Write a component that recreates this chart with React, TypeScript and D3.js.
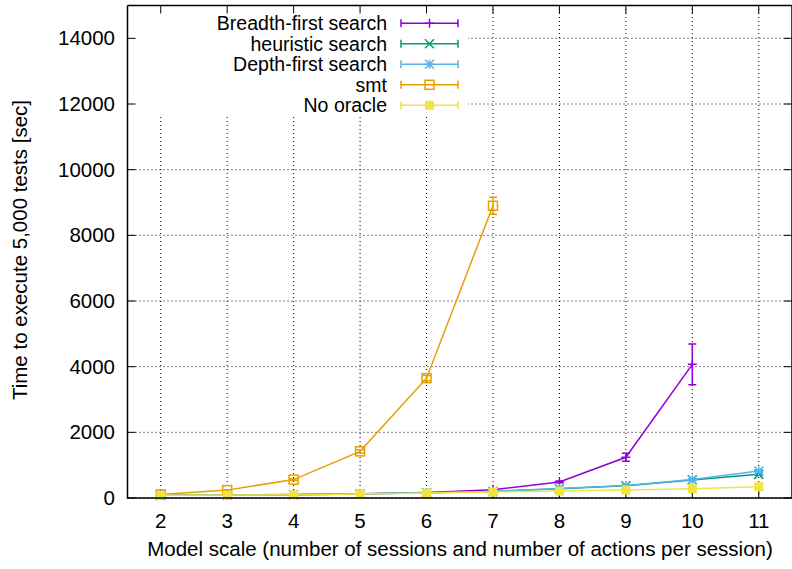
import React from "react";
import * as d3 from "d3";

const xTicks = [2, 3, 4, 5, 6, 7, 8, 9, 10, 11];
const yTicks = [0, 2000, 4000, 6000, 8000, 10000, 12000, 14000];

const seriesNames = ["Breadth-first search", "heuristic search", "Depth-first search", "smt", "No oracle"];
const seriesColors = ["#9400d3", "#009e73", "#56b4e9", "#e69f00", "#f0e442"];
const seriesMarkers = ["plus", "cross", "star", "square", "filled"];

const bfsX = [2, 3, 4, 5, 6, 7, 8, 9, 10];
const bfsY = [90, 95, 105, 130, 170, 250, 490, 1240, 4070];
const bfsErr = [5, 5, 5, 8, 10, 15, 25, 120, 620];

const heurX = [2, 3, 4, 5, 6, 7, 8, 9, 10, 11];
const heurY = [80, 90, 100, 120, 160, 200, 280, 370, 550, 720];
const heurErr = [3, 3, 4, 5, 6, 8, 10, 15, 20, 30];

const dfsX = [2, 3, 4, 5, 6, 7, 8, 9, 10, 11];
const dfsY = [80, 90, 100, 120, 160, 200, 290, 380, 560, 820];
const dfsErr = [3, 3, 4, 5, 6, 8, 10, 15, 20, 40];

const smtX = [2, 3, 4, 5, 6, 7];
const smtY = [110, 240, 560, 1420, 3650, 8900];
const smtErr = [10, 15, 25, 50, 80, 260];

const noX = [2, 3, 4, 5, 6, 7, 8, 9, 10, 11];
const noY = [80, 90, 100, 120, 150, 180, 210, 240, 285, 345];
const noErr = [2, 2, 3, 3, 4, 5, 5, 6, 8, 10];

const allX = [bfsX, heurX, dfsX, smtX, noX];
const allY = [bfsY, heurY, dfsY, smtY, noY];
const allErr = [bfsErr, heurErr, dfsErr, smtErr, noErr];

const W = 792, H = 569;
const L = 127.5, R = 792, T = 5.5, B = 498;
const FONT = "'Liberation Sans', Arial, sans-serif";
const FS = 20.5;
const LEG_FS = 19.5;

function Marker({ type, x, y, color }: { type: string; x: number; y: number; color: string }) {
  const s = 4.5;
  const sw = 1.5;
  if (type === "plus")
    return <path d={`M${x - s},${y}H${x + s}M${x},${y - s}V${y + s}`} stroke={color} strokeWidth={sw} fill="none" />;
  if (type === "cross")
    return <path d={`M${x - s},${y - s}L${x + s},${y + s}M${x - s},${y + s}L${x + s},${y - s}`} stroke={color} strokeWidth={sw} fill="none" />;
  if (type === "star")
    return (
      <path
        d={`M${x - s},${y}H${x + s}M${x},${y - s}V${y + s}M${x - s},${y - s}L${x + s},${y + s}M${x - s},${y + s}L${x + s},${y - s}`}
        stroke={color}
        strokeWidth={sw}
        fill="none"
      />
    );
  if (type === "square")
    return <rect x={x - s} y={y - s} width={2 * s} height={2 * s} stroke={color} strokeWidth={sw} fill="none" />;
  return <rect x={x - s} y={y - s} width={2 * s} height={2 * s} fill={color} />;
}

export default function App() {
  const xs = d3.scaleLinear().domain([1.5, 11.5]).range([L, R]);
  const ys = d3.scaleLinear().domain([0, 15000]).range([B, T]);
  const line = d3.line<[number, number]>().x((d) => xs(d[0])).y((d) => ys(d[1]));

  const legendRowY = (i: number) => 23.3 + i * 20.5;
  const legTextX = 387;
  const legL = 401, legR = 458, legMid = 429.5;
  const capW = 4;

  return (
    <svg width={W} height={H} style={{ position: "absolute", left: 0, top: 0, background: "#fff" }} fontFamily={FONT}>
      <rect width={W} height={H} fill="#fff" />
      {/* grid */}
      <g stroke="#000" strokeWidth={1} strokeDasharray="1,3" fill="none">
        {xTicks.map((t) => (
          <line key={"gx" + t} x1={xs(t)} x2={xs(t)} y1={B} y2={T} />
        ))}
        {yTicks.map((t) => (
          <line key={"gy" + t} x1={L} x2={R} y1={ys(t)} y2={ys(t)} />
        ))}
      </g>
      {/* legend background covering grid */}
      <rect x={L + 1} y={T + 1} width={467 - L} height={116 - T} fill="#fff" />
      {/* ticks */}
      <g stroke="#000" strokeWidth={1}>
        {xTicks.map((t) => (
          <g key={"tx" + t}>
            <line x1={xs(t)} x2={xs(t)} y1={B} y2={B - 8} />
            <line x1={xs(t)} x2={xs(t)} y1={T} y2={T + 8} />
          </g>
        ))}
        {yTicks.map((t) => (
          <g key={"ty" + t}>
            <line x1={L} x2={L + 8} y1={ys(t)} y2={ys(t)} />
            <line x1={R} x2={R - 8} y1={ys(t)} y2={ys(t)} />
          </g>
        ))}
      </g>
      {/* tick labels */}
      <g fontSize={FS} fill="#000">
        {xTicks.map((t) => (
          <text key={"lx" + t} x={xs(t)} y={528} textAnchor="middle">
            {t}
          </text>
        ))}
        {yTicks.map((t) => (
          <text key={"ly" + t} x={115} y={ys(t) + 7} textAnchor="end">
            {t}
          </text>
        ))}
      </g>
      {/* axis titles */}
      <text x={460} y={556} textAnchor="middle" fontSize={FS}>
        Model scale (number of sessions and number of actions per session)
      </text>
      <text transform={`translate(27,250) rotate(-90)`} textAnchor="middle" fontSize={FS}>
        Time to execute 5,000 tests [sec]
      </text>
      {/* series */}
      {seriesNames.map((name, i) => {
        const pts: [number, number][] = allX[i].map((x, j) => [x, allY[i][j]]);
        const c = seriesColors[i];
        return (
          <g key={name}>
            <path d={line(pts) || ""} fill="none" stroke={c} strokeWidth={1.5} />
            {pts.map(([x, y], j) => {
              const e = allErr[i][j];
              const px = xs(x);
              const y1 = ys(y - e), y2 = ys(y + e);
              return (
                <g key={j}>
                  <path
                    d={`M${px},${y1}V${y2}M${px - capW},${y1}H${px + capW}M${px - capW},${y2}H${px + capW}`}
                    stroke={c}
                    strokeWidth={1.5}
                    fill="none"
                  />
                  <Marker type={seriesMarkers[i]} x={px} y={ys(y)} color={c} />
                </g>
              );
            })}
          </g>
        );
      })}
      {/* legend */}
      {seriesNames.map((name, i) => {
        const y = legendRowY(i);
        const c = seriesColors[i];
        return (
          <g key={"leg" + name}>
            <text x={legTextX} y={y + 7} textAnchor="end" fontSize={LEG_FS}>
              {name}
            </text>
            <path
              d={`M${legL},${y}H${legR}M${legL},${y - 4}V${y + 4}M${legR},${y - 4}V${y + 4}`}
              stroke={c}
              strokeWidth={1.5}
              fill="none"
            />
            <Marker type={seriesMarkers[i]} x={legMid} y={y} color={c} />
          </g>
        );
      })}
      {/* border */}
      <path d={`M${L},${T}H${R}M${L},${T}V${B}H${R}M${R},${T}V${B}`} stroke="#000" strokeWidth={1.5} fill="none" />
    </svg>
  );
}
